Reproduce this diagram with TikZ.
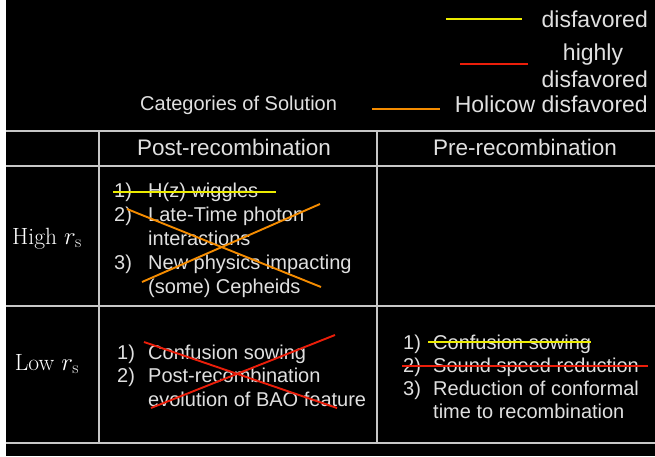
\documentclass[tikz,border=0pt]{standalone}
\usepackage[no-math]{fontspec}
\setmainfont{Liberation Sans}
\newfontfamily\lmfont{Latin Modern Roman}
\begin{document}
\begin{tikzpicture}[x=1pt,y=-1pt,
  grid/.style={draw=black!22!white, line width=1.4pt},
  txt/.style={text=black!12!white, inner sep=0pt, anchor=base west, font=\fontsize{20}{24}\selectfont},
  hdr/.style={text=black!12!white, inner sep=0pt, anchor=base, font=\fontsize{22.5}{27}\selectfont},
  leg/.style={text=black!12!white, inner sep=0pt, font=\fontsize{23}{27}\selectfont},
  rowlab/.style={text=white, inner sep=0pt, anchor=base, font=\lmfont\fontsize{23.5}{28}\selectfont},
  ystrike/.style={draw={rgb,255:red,235;green,235;blue,0}, line width=1.9pt},
  rstrike/.style={draw={rgb,255:red,235;green,30;blue,10}, line width=1.9pt},
  ostrike/.style={draw={rgb,255:red,245;green,140;blue,0}, line width=1.9pt}]
\useasboundingbox (0,0) rectangle (655,456);
\fill[white] (0,0) rectangle (655,456);
\fill[black] (6,0) rectangle (655,456);

% legend
\coordinate (ly1) at (446,19); \coordinate (ly2) at (522,19);
\draw[ystrike] (ly1) -- (ly2);
\node[leg, anchor=base east] (ld) at (648,27) {disfavored};
\coordinate (lr1) at (460,64); \coordinate (lr2) at (528,64);
\draw[rstrike] (lr1) -- (lr2);
\node[leg, anchor=base] (lh1) at (593,60) {highly};
\node[leg, anchor=base east] (lh2) at (648,87) {disfavored};
\coordinate (lo1) at (372,109); \coordinate (lo2) at (440,109);
\draw[ostrike] (lo1) -- (lo2);
\node[leg, anchor=base east] (lhd) at (648,112) {Holicow disfavored};
\node[txt] (cat) at (140,110) {Categories of Solution};

% grid
\draw[grid] (6,131) -- (655,131);
\draw[grid] (6,166) -- (655,166);
\draw[grid] (6,306) -- (655,306);
\draw[grid] (6,443) -- (655,443);
\draw[grid] (99,131) -- (99,443);
\draw[grid] (377,131) -- (377,443);

% headers
\node[hdr] (post) at (234,155) {Post-recombination};
\node[hdr] (pre) at (525,155) {Pre-recombination};
\node[rowlab] (high) at (47,244) {High $r_{\mathrm{s}}$};
\node[rowlab] (low) at (47,370) {Low $r_{\mathrm{s}}$};

% post / high
\node[txt] (a1n) at (114,197) {1)};
\node[txt] (a1) at (148,197) {H(z) wiggles};
\node[txt] (a2n) at (114,221) {2)};
\node[txt] (a2) at (148,221) {Late-Time photon};
\node[txt] (a2b) at (148,245) {interactions};
\node[txt] (a3n) at (114,269) {3)};
\node[txt] (a3) at (148,269) {New physics impacting};
\node[txt] (a3b) at (148,293) {(some) Cepheids};
\coordinate (ys1) at (113,192); \coordinate (ys2) at (276,192);
\draw[ystrike] (ys1) -- (ys2);
\coordinate (ox1) at (127,209); \coordinate (ox2) at (321,287);
\coordinate (ox3) at (142,282); \coordinate (ox4) at (320,204);
\draw[ostrike] (ox1) -- (ox2);
\draw[ostrike] (ox3) -- (ox4);

% post / low
\node[txt] (b1n) at (117,359) {1)};
\node[txt] (b1) at (148,359) {Confusion sowing};
\node[txt] (b2n) at (117,382) {2)};
\node[txt] (b2) at (148,382) {Post-recombination};
\node[txt] (b2b) at (148,406) {evolution of BAO feature};
\coordinate (rx1) at (144,342); \coordinate (rx2) at (337,408);
\coordinate (rx3) at (151,408); \coordinate (rx4) at (335,335);
\draw[rstrike] (rx1) -- (rx2);
\draw[rstrike] (rx3) -- (rx4);

% pre / low
\node[txt] (c1n) at (403,349) {1)};
\node[txt] (c1) at (433,349) {Confusion sowing};
\node[txt] (c2n) at (403,372) {2)};
\node[txt] (c2) at (433,372) {Sound speed reduction};
\node[txt] (c3n) at (403,395) {3)};
\node[txt] (c3) at (433,395) {Reduction of conformal};
\node[txt] (c3b) at (433,418) {time to recombination};
\coordinate (ys3) at (428,342); \coordinate (ys4) at (591,342);
\draw[ystrike] (ys3) -- (ys4);
\coordinate (rs1) at (402,366); \coordinate (rs2) at (648,366);
\draw[rstrike] (rs1) -- (rs2);
\end{tikzpicture}
\end{document}
